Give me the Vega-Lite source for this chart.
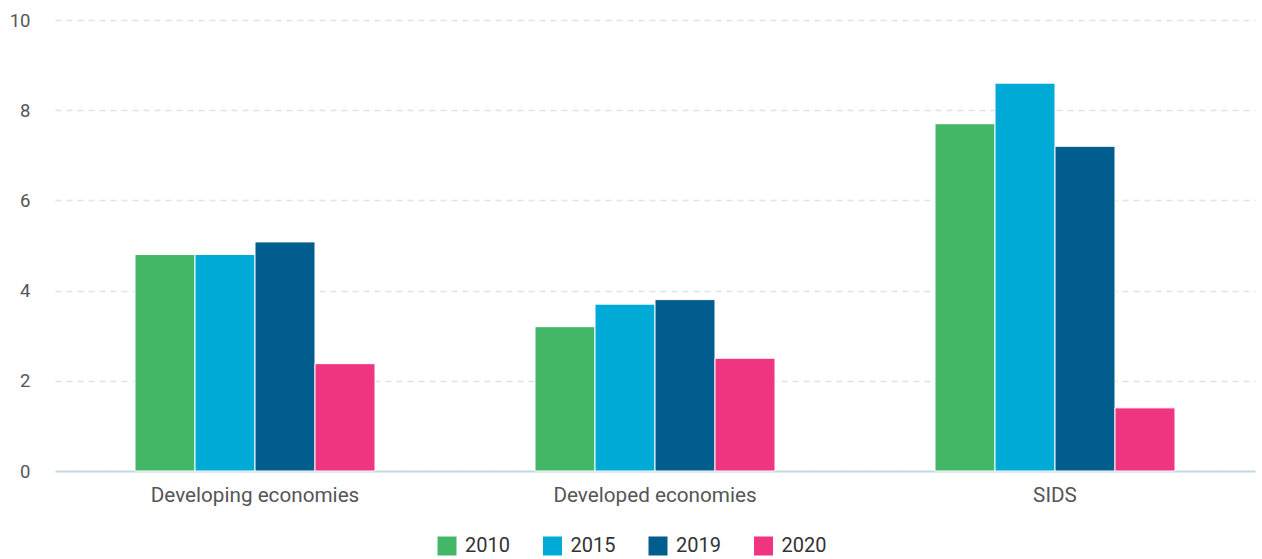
{
  "$schema": "https://vega.github.io/schema/vega-lite/v6.json",
  "width": 1200,
  "height": 451,
  "autosize": {"type": "none"},
  "padding": {"left": 55, "top": 20, "right": 7, "bottom": 88},
  "background": "white",
  "config": {
    "font": "Roboto",
    "view": {"stroke": null}
  },
  "data": {
    "values": [
      {"group": "Developing economies", "year": "2010", "value": 4.8},
      {"group": "Developing economies", "year": "2015", "value": 4.8},
      {"group": "Developing economies", "year": "2019", "value": 5.08},
      {"group": "Developing economies", "year": "2020", "value": 2.38},
      {"group": "Developed economies", "year": "2010", "value": 3.2},
      {"group": "Developed economies", "year": "2015", "value": 3.7},
      {"group": "Developed economies", "year": "2019", "value": 3.8},
      {"group": "Developed economies", "year": "2020", "value": 2.5},
      {"group": "SIDS", "year": "2010", "value": 7.7},
      {"group": "SIDS", "year": "2015", "value": 8.6},
      {"group": "SIDS", "year": "2019", "value": 7.2},
      {"group": "SIDS", "year": "2020", "value": 1.4}
    ]
  },
  "mark": {"type": "bar", "stroke": "white", "strokeWidth": 1},
  "encoding": {
    "x": {
      "field": "group",
      "type": "nominal",
      "sort": null,
      "scale": {"paddingInner": 0.4, "paddingOuter": 0.2},
      "axis": {
        "title": null,
        "labelAngle": 0,
        "labelFontSize": 20.7,
        "labelLimit": 0,
        "labelColor": "#555555",
        "labelPadding": 14,
        "ticks": false,
        "domainColor": "#c5d7e6",
        "domainWidth": 2,
        "grid": false
      }
    },
    "xOffset": {
      "field": "year",
      "type": "nominal",
      "scale": {"paddingInner": 0.0, "paddingOuter": 0}
    },
    "y": {
      "field": "value",
      "type": "quantitative",
      "scale": {"domain": [0, 10], "nice": false},
      "axis": {
        "title": null,
        "values": [0, 2, 4, 6, 8, 10],
        "labelFontSize": 18.5,
        "labelColor": "#555555",
        "labelPadding": 25,
        "ticks": false,
        "domain": false,
        "grid": true,
        "gridColor": "#e2e2e2",
        "gridDash": [6, 5],
        "gridWidth": 1.5
      }
    },
    "color": {
      "field": "year",
      "type": "nominal",
      "scale": {
        "domain": ["2010", "2015", "2019", "2020"],
        "range": ["#43b767", "#00aad6", "#025d8f", "#ef357f"]
      },
      "legend": {
        "title": null,
        "orient": "none",
        "legendX": 382,
        "legendY": 516,
        "direction": "horizontal",
        "symbolType": "square",
        "symbolSize": 361,
        "symbolStrokeWidth": 0,
        "labelFontSize": 20,
        "labelColor": "#333333",
        "columnPadding": 32.5,
        "labelOffset": 8
      }
    }
  }
}
